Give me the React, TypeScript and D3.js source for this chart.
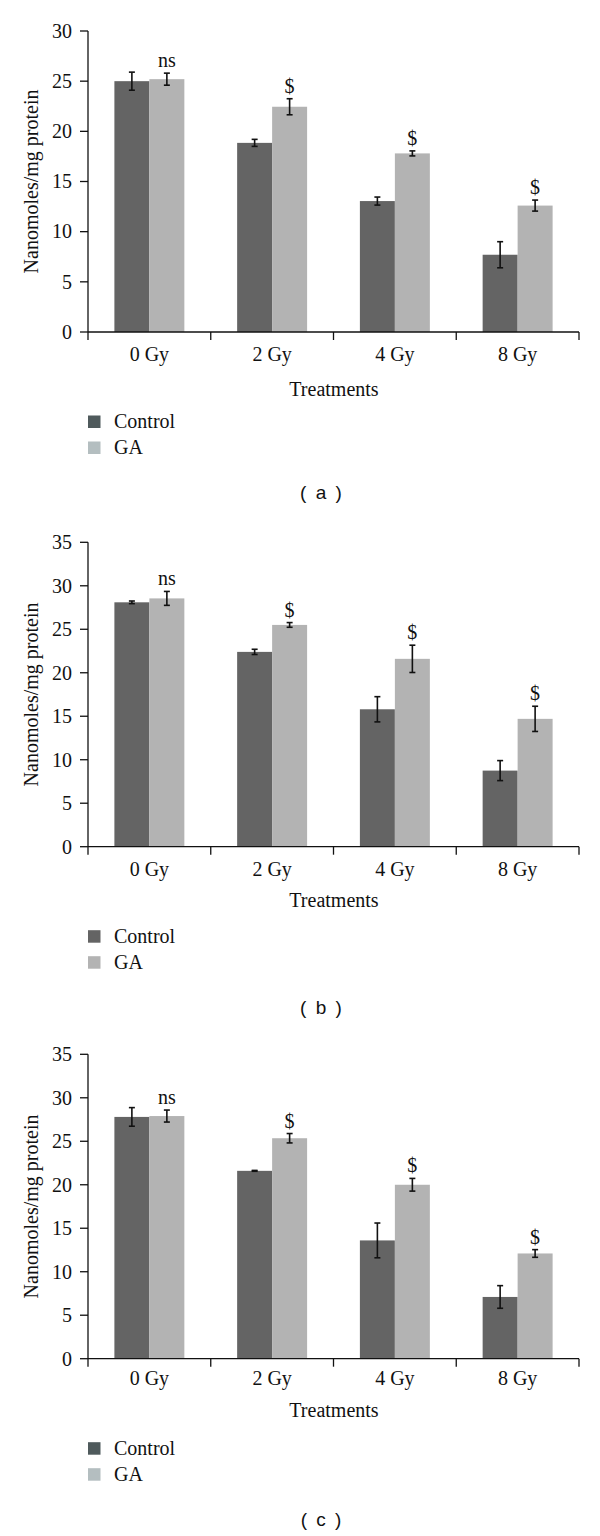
import * as d3 from "d3";

const categories = ["0 Gy", "2 Gy", "4 Gy", "8 Gy"];
const seriesNames = ["Control", "GA"];
const marks = ["ns", "$", "$", "$"];

const controlA = [25.0, 18.85, 13.05, 7.7];
const controlErrA = [0.9, 0.35, 0.4, 1.3];
const gaA = [25.2, 22.45, 17.8, 12.6];
const gaErrA = [0.6, 0.8, 0.25, 0.55];

const controlB = [28.1, 22.4, 15.8, 8.75];
const controlErrB = [0.15, 0.3, 1.45, 1.15];
const gaB = [28.55, 25.5, 21.6, 14.7];
const gaErrB = [0.8, 0.27, 1.57, 1.45];

const controlC = [27.8, 21.6, 13.6, 7.1];
const controlErrC = [1.07, 0.05, 2.0, 1.3];
const gaC = [27.9, 25.35, 20.0, 12.1];
const gaErrC = [0.69, 0.54, 0.73, 0.44];

const ticksA = [0, 5, 10, 15, 20, 25, 30];
const ticksBC = [0, 5, 10, 15, 20, 25, 30, 35];

const BAR_COLORS = ["#646464", "#b3b3b3"];
const SLATE_LEGEND = ["#4f5a5c", "#b4bec0"];

const SERIF = "'Liberation Serif', 'Times New Roman', serif";
const SANS = "'Liberation Sans', Arial, sans-serif";
const FS = 20;

const X0 = 88;
const X1 = 579;

interface PanelProps {
  top: number;
  bottom: number;
  max: number;
  ticks: number[];
  control: number[];
  controlErr: number[];
  ga: number[];
  gaErr: number[];
  legendColors: string[];
  caption: string;
  gyOffset: number;
  treatOffset: number;
}

function Panel(p: PanelProps) {
  const x = d3.scaleBand<string>().domain(categories).range([X0, X1]).paddingInner(0.43).paddingOuter(0.215);
  const xs = d3.scaleBand<string>().domain(seriesNames).range([0, x.bandwidth()]).padding(0);
  const y = d3.scaleLinear().domain([0, p.max]).range([p.bottom, p.top]);
  const step = x.step();
  const boundaries = d3.range(categories.length + 1).map((i) => X0 + i * step);
  const values = [p.control, p.ga];
  const errs = [p.controlErr, p.gaErr];
  const midY = (p.top + p.bottom) / 2;

  return (
    <g>
      {/* bars */}
      {categories.map((c, i) => (
        <g key={c}>
          {seriesNames.map((s, j) => (
            <rect
              key={s}
              x={x(c)! + xs(s)!}
              y={y(values[j][i])}
              width={xs.bandwidth()}
              height={p.bottom - y(values[j][i])}
              fill={BAR_COLORS[j]}
            />
          ))}
        </g>
      ))}
      {/* error bars */}
      {categories.map((c, i) =>
        seriesNames.map((s, j) => {
          const cx = x(c)! + xs(s)! + xs.bandwidth() / 2;
          const hi = y(values[j][i] + errs[j][i]);
          const lo = y(values[j][i] - errs[j][i]);
          return (
            <g key={c + s} stroke="#111" strokeWidth={1.6}>
              <line x1={cx} x2={cx} y1={hi} y2={lo} />
              <line x1={cx - 3} x2={cx + 3} y1={hi} y2={hi} />
              <line x1={cx - 3} x2={cx + 3} y1={lo} y2={lo} />
            </g>
          );
        })
      )}
      {/* significance marks */}
      {categories.map((c, i) => (
        <text
          key={c}
          x={x(c)! + xs("GA")! + xs.bandwidth() / 2}
          y={y(p.ga[i] + p.gaErr[i]) - 6}
          textAnchor="middle"
          fontFamily={SERIF}
          fontSize={FS}
          fill="#111"
        >
          {marks[i]}
        </text>
      ))}
      {/* y axis */}
      <line x1={X0} x2={X0} y1={y(p.max)} y2={p.bottom} stroke="#111" strokeWidth={1.3} />
      {p.ticks.map((t) => (
        <g key={t}>
          <line x1={X0 - 8} x2={X0} y1={y(t)} y2={y(t)} stroke="#111" strokeWidth={1.3} />
          <text x={72} y={y(t)} dy="0.34em" textAnchor="end" fontFamily={SERIF} fontSize={FS} fill="#111">
            {t}
          </text>
        </g>
      ))}
      {/* x axis */}
      <line x1={X0} x2={X1} y1={p.bottom} y2={p.bottom} stroke="#111" strokeWidth={1.3} />
      {boundaries.map((bx, i) => (
        <line key={i} x1={bx} x2={bx} y1={p.bottom} y2={p.bottom + 8} stroke="#111" strokeWidth={1.3} />
      ))}
      {categories.map((c) => (
        <text
          key={c}
          x={x(c)! + x.bandwidth() / 2}
          y={p.bottom + p.gyOffset}
          textAnchor="middle"
          fontFamily={SERIF}
          fontSize={FS}
          fill="#111"
        >
          {c}
        </text>
      ))}
      <text x={334} y={p.bottom + p.treatOffset} textAnchor="middle" fontFamily={SERIF} fontSize={FS} fill="#111">
        Treatments
      </text>
      <text
        transform={`translate(38,${midY}) rotate(-90)`}
        textAnchor="middle"
        fontFamily={SERIF}
        fontSize={FS}
        fill="#111"
      >
        Nanomoles/mg protein
      </text>
      {/* legend */}
      {seriesNames.map((s, j) => (
        <g key={s}>
          <rect x={88} y={p.bottom + 83.5 + j * 26} width={12.5} height={12.5} fill={p.legendColors[j]} />
          <text x={114} y={p.bottom + 96 + j * 26} fontFamily={SERIF} fontSize={FS} fill="#111">
            {s}
          </text>
        </g>
      ))}
      <text
        x={322}
        y={p.bottom + 167}
        textAnchor="middle"
        fontFamily={SANS}
        fontSize={19}
        letterSpacing={2}
        fill="#111"
      >
        {`( ${p.caption} )`}
      </text>
    </g>
  );
}

export default function App() {
  return (
    <svg
      width={600}
      height={1536}
      style={{ position: "absolute", left: 0, top: 0, background: "#fff" }}
    >
      <rect width={600} height={1536} fill="#fff" />
      <Panel
        top={31}
        bottom={332}
        max={30}
        ticks={ticksA}
        control={controlA}
        controlErr={controlErrA}
        ga={gaA}
        gaErr={gaErrA}
        legendColors={SLATE_LEGEND}
        caption="a"
        gyOffset={29}
        treatOffset={64}
      />
      <Panel
        top={542.3}
        bottom={846.7}
        max={35}
        ticks={ticksBC}
        control={controlB}
        controlErr={controlErrB}
        ga={gaB}
        gaErr={gaErrB}
        legendColors={BAR_COLORS}
        caption="b"
        gyOffset={29}
        treatOffset={60}
      />
      <Panel
        top={1054.3}
        bottom={1358.7}
        max={35}
        ticks={ticksBC}
        control={controlC}
        controlErr={controlErrC}
        ga={gaC}
        gaErr={gaErrC}
        legendColors={SLATE_LEGEND}
        caption="c"
        gyOffset={26}
        treatOffset={58}
      />
    </svg>
  );
}
